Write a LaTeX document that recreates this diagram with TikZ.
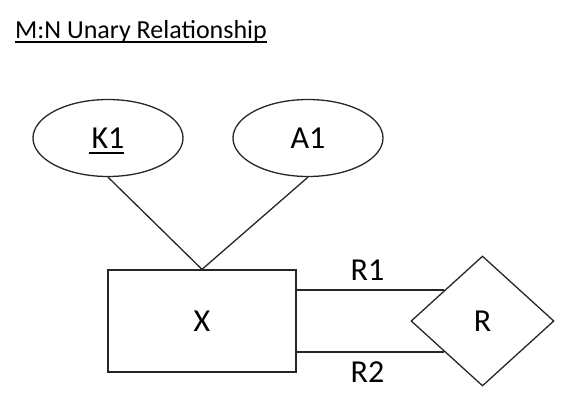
\documentclass[tikz,border=0pt]{standalone}
\usepackage{fontspec}
\setmainfont{Carlito}
\usetikzlibrary{shapes.geometric,calc}
\begin{document}
\begin{tikzpicture}[x=1pt,y=-1pt,
  every node/.style={font=\fontsize{32}{38}\selectfont, inner sep=0pt},
  ln/.style={line width=1.3pt, draw=black!85},
  attr/.style={ln, ellipse, minimum width=150pt, minimum height=77pt, text height=21pt, text depth=0pt},
  ent/.style={ln, rectangle, minimum width=188pt, minimum height=102pt, text height=21pt, text depth=0pt},
  rel/.style={ln, diamond, aspect=1.1, minimum width=143pt, minimum height=130pt, text height=21pt, text depth=0pt},
  lbl/.style={text height=21pt, text depth=0pt}]
\useasboundingbox (0,0) rectangle (582,420);
\node[anchor=base west, font=\fontsize{26}{31}\selectfont] (title) at (15,39) {M:N Unary Relationship};
\draw[line width=1.4pt] ([yshift=-3pt]title.base west) -- ([yshift=-3pt]title.base east);
\node[attr] (k1) at (108,138) {K1};
\draw[line width=2.4pt] ($(k1.center)+(-19,15)$) -- ($(k1.center)+(16,15)$);
\node[attr] (a1) at (308,138) {A1};
\node[ent] (x) at (202,321) {X};
\node[rel] (r) at (482.5,321) {R};
\draw[ln] (k1.south) -- (x.north);
\draw[ln] (a1.south) -- (x.north);
\draw[ln] (x.east |- r.141) -- node[lbl, above=9pt, xshift=-3pt] (r1) {R1} (r.141);
\draw[ln] (x.east |- r.219) -- node[lbl, below=9pt, xshift=-3pt] (r2) {R2} (r.219);
\end{tikzpicture}
\end{document}
